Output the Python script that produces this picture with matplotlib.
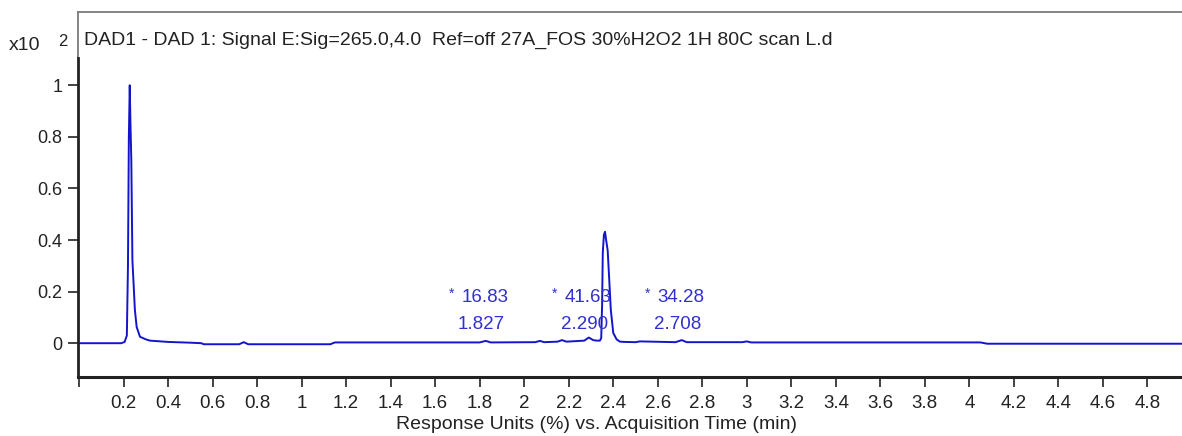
import matplotlib.pyplot as plt

plt.rcParams['font.family'] = ['Liberation Sans', 'DejaVu Sans']

# chromatogram trace (time in min, response x10^2)
time = [0.0, 0.10, 0.19, 0.205, 0.215, 0.220, 0.224, 0.228, 0.231, 0.235,
        0.240, 0.243, 0.251, 0.259, 0.274, 0.300, 0.319, 0.40, 0.50, 0.55,
        0.56, 0.72, 0.74, 0.76, 1.13, 1.14, 1.15, 1.50, 1.80, 1.827, 1.85,
        2.05, 2.07, 2.09, 2.15, 2.17, 2.19, 2.27, 2.29, 2.31, 2.325, 2.340,
        2.346, 2.350, 2.353, 2.358, 2.363, 2.368, 2.375, 2.383, 2.389, 2.400,
        2.415, 2.430, 2.45, 2.50, 2.52, 2.68, 2.708, 2.73, 2.98, 3.0, 3.02,
        4.05, 4.08, 4.96]
signal = [0.0, 0.0, 0.0, 0.005, 0.03, 0.30, 0.80, 1.0, 0.86, 0.71,
          0.32, 0.27, 0.13, 0.063, 0.025, 0.015, 0.01, 0.005, 0.002, 0.0,
          -0.004, -0.004, 0.004, -0.004, -0.004, 0.0, 0.003, 0.003, 0.003, 0.009, 0.003,
          0.004, 0.009, 0.004, 0.006, 0.012, 0.006, 0.010, 0.022, 0.012, 0.010, 0.010,
          0.02, 0.15, 0.35, 0.42, 0.432, 0.40, 0.36, 0.23, 0.13, 0.04,
          0.015, 0.006, 0.005, 0.004, 0.007, 0.004, 0.012, 0.004, 0.004, 0.007, 0.003,
          0.003, -0.002, -0.002]

# integrated peaks
peak_rt = [1.827, 2.290, 2.708]
peak_area = ['16.83', '41.63', '34.28']

x_ticks = [0, 0.2, 0.4, 0.6, 0.8, 1, 1.2, 1.4, 1.6, 1.8, 2, 2.2, 2.4, 2.6, 2.8,
           3, 3.2, 3.4, 3.6, 3.8, 4, 4.2, 4.4, 4.6, 4.8]
y_ticks = [0, 0.2, 0.4, 0.6, 0.8, 1]

title = 'DAD1 - DAD 1: Signal E:Sig=265.0,4.0  Ref=off 27A_FOS 30%H2O2 1H 80C scan L.d'
xlabel = 'Response Units (%) vs. Acquisition Time (min)'

blue = '#1414cc'
txt_blue = '#3030cc'
dark = '#222222'

fig = plt.figure(figsize=(11.82, 4.36), dpi=100)
ax = fig.add_axes([77.5 / 1182, 59 / 436, 1104.5 / 1182, 365 / 436])

ax.plot(time, signal, color=blue, lw=1.4)

ax.set_xlim(-0.0067, 4.955)
ax.set_ylim(-0.131, 1.284)

ax.set_xticks(x_ticks)
ax.set_xticklabels(['' if t == 0 else f'{t:g}' for t in x_ticks])
ax.set_yticks(y_ticks)
ax.set_yticklabels([f'{t:g}' for t in y_ticks])
ax.tick_params(axis='x', direction='out', length=7, width=1.2, pad=6, labelsize=13.5, colors=dark)
ax.tick_params(axis='y', direction='out', length=7, width=1.2, pad=4, labelsize=13, colors=dark)

ax.spines['right'].set_visible(False)
ax.spines['top'].set_color('#7a7a7a')
ax.spines['top'].set_linewidth(1.3)
ax.spines['bottom'].set_color(dark)
ax.spines['bottom'].set_linewidth(2.2)
ax.spines['left'].set_color(dark)
ax.spines['left'].set_linewidth(2.0)
ax.spines['left'].set_bounds(-0.131, 1.106)
ax.plot([0, 0], [1.106, 1.284], transform=ax.get_yaxis_transform(),
        color='#7a7a7a', lw=1.3, clip_on=False)

for rt, area in zip(peak_rt, peak_area):
    ax.text(rt - 0.02, 0.072, f'{rt:.3f}', color=txt_blue, fontsize=13.5,
            ha='center', va='center')
    ax.text(rt - 0.108, 0.177, area, color=txt_blue, fontsize=13.5,
            ha='left', va='center')
    ax.text(rt - 0.165, 0.19, '*', color=txt_blue, fontsize=10,
            ha='left', va='center')

fig.text(84 / 1182, 1 - 40 / 436, title, fontsize=14, color=dark,
         ha='left', va='center')
fig.text(9 / 1182, 1 - 45 / 436, 'x10', fontsize=14, color=dark,
         ha='left', va='center')
fig.text(58 / 1182, 1 - 42 / 436, '2', fontsize=12, color=dark,
         ha='left', va='center')
fig.text(597 / 1182, 1 - 424 / 436, xlabel, fontsize=14, color=dark,
         ha='center', va='center')

fig.savefig('out.png', dpi=100)
